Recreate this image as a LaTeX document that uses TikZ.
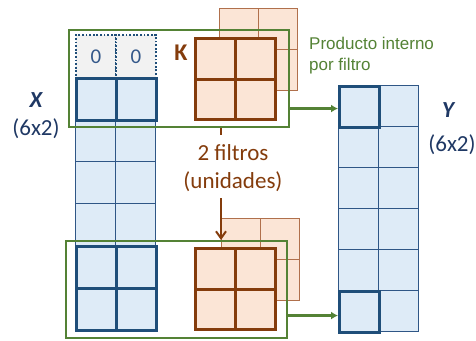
\documentclass[tikz,border=0pt]{standalone}
\usepackage{fontspec}
\setmainfont{Carlito}
\newfontfamily\arialf{Liberation Sans}
\usetikzlibrary{arrows.meta}

\definecolor{cellblue}{RGB}{222,235,247}
\definecolor{darkblue}{RGB}{31,78,121}
\definecolor{gridblue}{RGB}{47,86,134}
\definecolor{zerogray}{RGB}{242,242,242}
\definecolor{zeroblue}{RGB}{52,88,138}
\definecolor{navytext}{RGB}{31,56,100}
\definecolor{orangefill}{RGB}{251,229,214}
\definecolor{kbrown}{RGB}{132,60,12}
\definecolor{backbrown}{RGB}{176,112,76}
\definecolor{wingreen}{RGB}{84,130,53}

\begin{document}
\begin{tikzpicture}[x=1pt,y=-1pt,
  cell/.style={rectangle, inner sep=0pt, anchor=north west, minimum width=40pt},
  xcell/.style={cell, fill=cellblue, draw=gridblue, line width=1.1pt, minimum height=42pt},
  xhi/.style={cell, draw=darkblue, line width=2.6pt, minimum height=42pt},
  zcell/.style={cell, fill=zerogray, draw=darkblue, line width=1.8pt,
    dash pattern=on 1.8pt off 1.8pt, minimum height=43pt,
    text=zeroblue, font=\fontsize{21}{21}\selectfont},
  ycell/.style={cell, fill=cellblue, draw=gridblue, line width=1.1pt, minimum height=41pt},
  yhi/.style={cell, draw=darkblue, line width=2.6pt, minimum height=41pt},
  kback/.style={cell, fill=orangefill, draw=backbrown, line width=1.1pt,
    minimum width=39pt, minimum height=41pt},
  kfront/.style={cell, fill=orangefill, draw=kbrown, line width=3pt, minimum height=40.5pt},
  winbox/.style={rectangle, inner sep=0pt, anchor=north west, draw=wingreen, line width=2pt},
  garrow/.style={draw=wingreen, line width=2.2pt, -{Latex[length=7pt,width=8pt]}},
  karrow/.style={draw=kbrown, line width=2pt, -{Straight Barb[length=7pt,width=10pt]}},
  bigtext/.style={font=\fontsize{23}{28}\selectfont}
]
\useasboundingbox (0,0) rectangle (476,340);

% input column X (6x2)
\foreach \r in {1,...,6}
  \foreach \c in {1,2}
    \node[xcell] (x-\r-\c) at ({75+40*(\c-1)},{77+42*(\r-1)}) {};
% zero padding row
\node[zcell] (z-1) at (75,34) {0};
\node[zcell] (z-2) at (115,34) {0};
% windows read by the filters
\foreach \r in {1,5,6}
  \foreach \c in {1,2}
    \node[xhi] (hx-\r-\c) at ({75+40*(\c-1)},{77+42*(\r-1)}) {};

% second filter of each pair, behind
\foreach \r in {1,2}
  \foreach \c in {1,2} {
    \node[kback] (kb-\r-\c) at ({219+39*(\c-1)},{8+41*(\r-1)}) {};
    \node[kback] (lb-\r-\c) at ({221+39*(\c-1)},{218+41*(\r-1)}) {};
  }

% windows
\node[winbox, minimum width=220pt, minimum height=97pt] (w1) at (68,29) {};
\node[winbox, minimum width=221pt, minimum height=97pt] (w2) at (65,240) {};

% first filter of each pair, in front
\foreach \r in {1,2}
  \foreach \c in {1,2} {
    \node[kfront] (kf-\r-\c) at ({194+40*(\c-1)},{37+40.5*(\r-1)}) {};
    \node[kfront] (lf-\r-\c) at ({194+40*(\c-1)},{247+40.5*(\r-1)}) {};
  }

% output column Y (6x2)
\foreach \r in {1,...,6}
  \foreach \c in {1,2}
    \node[ycell] (y-\r-\c) at ({338+40*(\c-1)},{85+41*(\r-1)}) {};
\node[yhi] (hy-1) at (338,85) {};
\node[yhi] (hy-6) at (338,290) {};

% labels
\node[text=navytext, font=\fontsize{23}{23}\selectfont\bfseries\itshape] (xl) at (36,100) {X};
\node[text=navytext, bigtext] (xs) at (36,129) {(6x2)};
\node[text=navytext, font=\fontsize{23}{23}\selectfont\bfseries\itshape] (yl) at (448,110) {Y};
\node[text=navytext, bigtext] (ys) at (452,145) {(6x2)};
\node[text=kbrown, font=\fontsize{24}{24}\selectfont\bfseries] (kl) at (181,53) {K};
\node[text=kbrown, bigtext, align=center] (fl) at (233,168) {2 filtros\\(unidades)};
\node[text=wingreen, font=\arialf\fontsize{17}{21}\selectfont, align=left,
  anchor=north west, inner sep=0pt] (pl) at (309,37) {Producto interno\\por filtro};

% connectors
\coordinate (kx) at (221,0);
\coordinate (t1) at (221,135);
\coordinate (t2) at (221,198);
\draw[draw=kbrown, line width=2pt] (w1.south -| kx) -- (t1);
\draw[karrow] (t2) -- (w2.north -| kx);
\draw[garrow] ([yshift=-2.5pt]w1.east |- y-1-1.west) -- ([yshift=-2.5pt]y-1-1.west);
\draw[garrow] ([yshift=-4.5pt]w2.east |- y-6-1.west) -- ([yshift=-4.5pt]y-6-1.west);
\end{tikzpicture}
\end{document}
